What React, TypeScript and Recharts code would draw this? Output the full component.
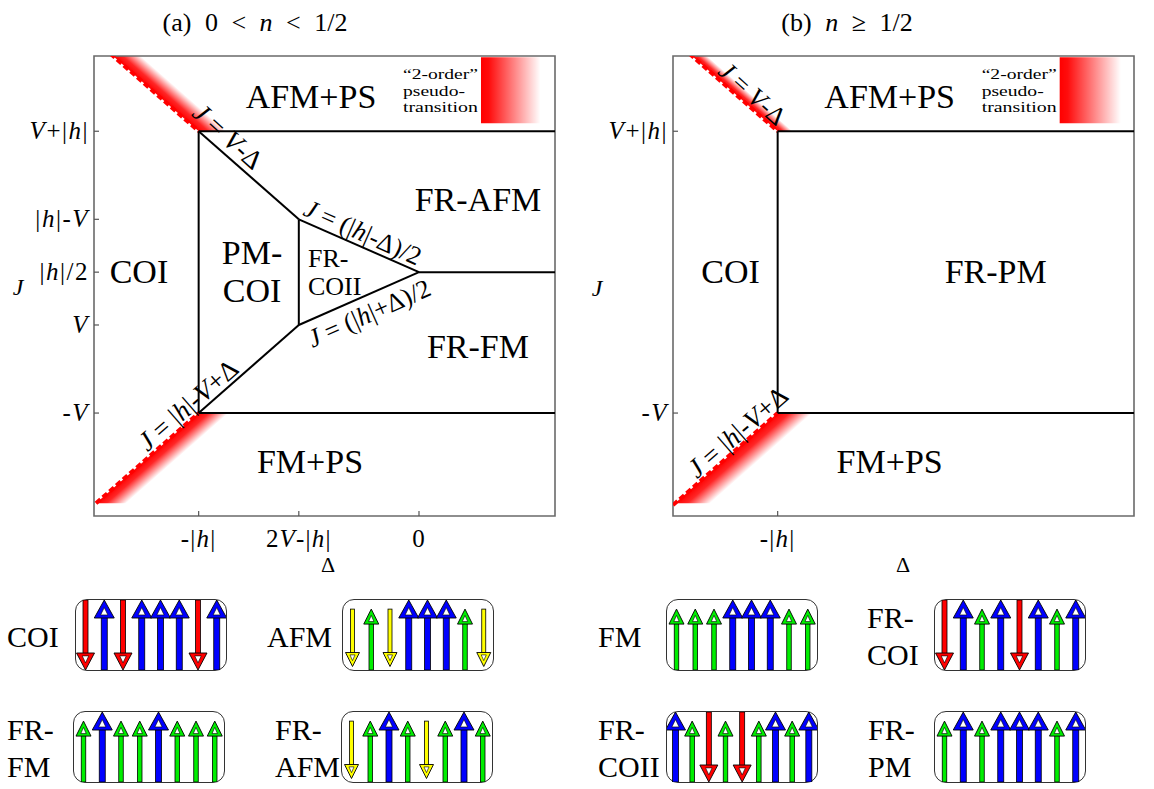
import React from 'react';
import {
  ComposedChart, Line, Area, XAxis, YAxis, ReferenceArea, ReferenceDot, BarChart, Bar,
} from 'recharts';

const FONT = '"Liberation Serif", "Times New Roman", serif';

// Units used for the schematic axes: |h| = 4.4, V = 1
const X_DOMAIN: [number, number] = [-6.49, 2.716];
const Y_DOMAIN: [number, number] = [-3.338, 7.109];

const xTicksA = [-4.4, -2.4, 0];
const xTickLabelsA = ['-|h|', '2V-|h|', '0'];
const yTicksA = [5.4, 3.4, 2.2, 1, -1];
const yTickLabelsA = ['V+|h|', '|h|-V', '|h|/2', 'V', '-V'];
const xTicksB = [-4.4];
const xTickLabelsB = ['-|h|'];
const yTicksB = [5.4, -1];
const yTickLabelsB = ['V+|h|', '-V'];

type Pt = { x: number; y: number };
type BandPt = { x: number; r: [number, number] };

// phase boundaries, panel (a)
const bJVmD_A: Pt[] = [{ x: -4.4, y: 5.4 }, { x: -2.4, y: 3.4 }];
const bHalfMinus_A: Pt[] = [{ x: -2.4, y: 3.4 }, { x: 0, y: 2.2 }];
const bHalfPlus_A: Pt[] = [{ x: -2.4, y: 1 }, { x: 0, y: 2.2 }];
const bJhVD_A: Pt[] = [{ x: -4.4, y: -1 }, { x: -2.4, y: 1 }];
const bVertH_A: Pt[] = [{ x: -4.4, y: 5.4 }, { x: -4.4, y: -1 }];
const bVert2V_A: Pt[] = [{ x: -2.4, y: 3.4 }, { x: -2.4, y: 1 }];
const bTop_A: Pt[] = [{ x: -4.4, y: 5.4 }, { x: 2.716, y: 5.4 }];
const bMid_A: Pt[] = [{ x: 0, y: 2.2 }, { x: 2.716, y: 2.2 }];
const bBot_A: Pt[] = [{ x: -4.4, y: -1 }, { x: 2.716, y: -1 }];

// phase boundaries, panel (b)
const bVertH_B: Pt[] = [{ x: -4.4, y: 5.4 }, { x: -4.4, y: -1 }];
const bTop_B: Pt[] = [{ x: -4.4, y: 5.4 }, { x: 2.716, y: 5.4 }];
const bBot_B: Pt[] = [{ x: -4.4, y: -1 }, { x: 2.716, y: -1 }];

// "2-order" pseudo-transition bands
const upperBandA: BandPt[] = [{ x: -6.3, r: [7.3, 7.85] }, { x: -4.4, r: [5.4, 5.95] }, { x: -3.85, r: [5.4, 5.4] }];
const lowerBandA: BandPt[] = [{ x: -6.45, r: [-3.05, -3.05] }, { x: -5.85, r: [-3.05, -2.45] }, { x: -4.4, r: [-1.6, -1.0] }, { x: -3.8, r: [-1.0, -1.0] }];
const upperEdgeA: Pt[] = [{ x: -6.3, y: 7.3 }, { x: -4.4, y: 5.4 }];
const lowerEdgeA: Pt[] = [{ x: -6.45, y: -3.05 }, { x: -4.4, y: -1.0 }];

const upperBandB: BandPt[] = [{ x: -6.3, r: [7.3, 7.6] }, { x: -4.4, r: [5.4, 5.7] }, { x: -4.1, r: [5.4, 5.4] }];
const lowerBandB: BandPt[] = [{ x: -6.45, r: [-3.05, -3.05] }, { x: -5.75, r: [-3.05, -2.35] }, { x: -4.4, r: [-1.7, -1.0] }, { x: -3.7, r: [-1.0, -1.0] }];
const upperEdgeB: Pt[] = [{ x: -6.3, y: 7.3 }, { x: -4.4, y: 5.4 }];
const lowerEdgeB: Pt[] = [{ x: -6.49, y: -3.09 }, { x: -4.4, y: -1.0 }];

// spin configurations (B blue up, G green up, R red down, Y yellow down)
const spinsCOI = ['R', 'B', 'R', 'B', 'B', 'B', 'R', 'B'];
const spinsAFM = ['Y', 'G', 'Y', 'B', 'B', 'B', 'G', 'Y'];
const spinsFM = ['G', 'G', 'G', 'B', 'B', 'B', 'G', 'G'];
const spinsFRCOI = ['R', 'B', 'G', 'B', 'R', 'B', 'G', 'B'];
const spinsFRFM = ['G', 'B', 'G', 'G', 'B', 'G', 'G', 'G'];
const spinsFRAFM = ['Y', 'G', 'B', 'G', 'Y', 'G', 'B', 'G'];
const spinsFRCOII = ['B', 'G', 'R', 'G', 'R', 'G', 'B', 'G', 'B'];
const spinsFRPM = ['G', 'B', 'G', 'B', 'B', 'B', 'G', 'B'];

const ARROWS: Record<string, { color: string; stem: number; head: number; headH: number; lo: number; hi: number; up: boolean }> = {
  B: { color: '#0000ff', stem: 6, head: 20, headH: 18, lo: 0, hi: 1, up: true },
  G: { color: '#00ee00', stem: 4.5, head: 15, headH: 15, lo: 0, hi: 0.87, up: true },
  R: { color: '#ff0000', stem: 5, head: 18, headH: 17, lo: 0, hi: 1, up: false },
  Y: { color: '#ffff00', stem: 4, head: 14, headH: 14, lo: 0.05, hi: 0.87, up: false },
};

const ITALIC = new Set(['J', 'V', 'h', 'n']);
function math(s: string) {
  const runs: { it: boolean; t: string }[] = [];
  for (const ch of s) {
    const it = ITALIC.has(ch);
    if (runs.length && runs[runs.length - 1].it === it) runs[runs.length - 1].t += ch;
    else runs.push({ it, t: ch });
  }
  return runs.map((r, i) => (
    <tspan key={i} fontStyle={r.it ? 'italic' : 'normal'}>{r.t}</tspan>
  ));
}

type Lbl = {
  x: number; y: number; lines: string[]; size: number; anchor?: 'start' | 'middle' | 'end';
  angle?: number; gap?: number; isMath?: boolean; lengths?: number[];
};

const labelsA: Lbl[] = [
  { x: -2.157, y: 5.922, lines: ['AFM+PS'], size: 34 },
  { x: 1.178, y: 3.585, lines: ['FR-AFM'], size: 34 },
  { x: -5.592, y: 1.951, lines: ['COI'], size: 34 },
  { x: -3.335, y: 2.382, lines: ['PM-', 'COI'], size: 34, gap: 38 },
  { x: -2.217, y: 2.314, lines: ['FR-', 'COII'], size: 26, anchor: 'start', gap: 28 },
  { x: 1.178, y: 0.248, lines: ['FR-FM'], size: 34 },
  { x: -2.177, y: -2.362, lines: ['FM+PS'], size: 34 },
  { x: -0.32, y: 6.581, lines: ['\u201c2-order\u201d', 'pseudo-', 'transition'], size: 15.5, anchor: 'start', gap: 16.5, lengths: [75, 62, 75] },
  { x: -3.815, y: 5.287, lines: ['J = V-\u0394'], size: 27, angle: 42, isMath: true },
  { x: -1.118, y: 3.108, lines: ['J = (|h|-\u0394)/2'], size: 26, angle: 24, isMath: true },
  { x: -0.999, y: 1.27, lines: ['J = (|h|+\u0394)/2'], size: 26, angle: -24, isMath: true },
  { x: -4.614, y: -0.818, lines: ['J = |h|-V+\u0394'], size: 27, angle: -41, isMath: true },
];

const labelsB: Lbl[] = [
  { x: -2.163, y: 5.922, lines: ['AFM+PS'], size: 34 },
  { x: -0.326, y: 6.581, lines: ['\u201c2-order\u201d', 'pseudo-', 'transition'], size: 15.5, anchor: 'start', gap: 16.5, lengths: [75, 62, 75] },
  { x: -5.339, y: 1.951, lines: ['COI'], size: 34 },
  { x: -0.046, y: 1.951, lines: ['FR-PM'], size: 34 },
  { x: -2.163, y: -2.362, lines: ['FM+PS'], size: 34 },
  { x: -4.899, y: 6.263, lines: ['J = V-\u0394'], size: 26, angle: 42, isMath: true },
  { x: -5.199, y: -1.431, lines: ['J = |h|-V+\u0394'], size: 27, angle: -41, isMath: true },
];

const makeLabelShape = (l: Lbl) => (p: any) => {
  const { cx, cy } = p;
  if (cx == null || cy == null) return <g />;
  const rotated = l.angle !== undefined;
  return (
    <text
      x={cx}
      y={cy}
      fontFamily={FONT}
      fontSize={l.size}
      fill="#000"
      textAnchor={l.anchor || 'middle'}
      dominantBaseline={rotated ? 'central' : 'auto'}
      transform={rotated ? `rotate(${l.angle} ${cx} ${cy})` : undefined}
    >
      {l.lines.map((t, i) => (
        <tspan
          key={i} x={cx} dy={i === 0 ? 0 : l.gap}
          textLength={l.lengths ? l.lengths[i] : undefined}
          lengthAdjust={l.lengths ? 'spacingAndGlyphs' : undefined}
        >
          {l.isMath ? math(t) : t}
        </tspan>
      ))}
    </text>
  );
};

const makeYTick = (ticks: number[], labels: string[]) => (p: any) => {
  const { x, y, payload } = p;
  const idx = ticks.findIndex((t) => Math.abs(t - payload.value) < 1e-6);
  return (
    <g>
      <line x1={x} x2={x + 5} y1={y} y2={y} stroke="#555" strokeWidth={1.2} />
      <text x={x - 5} y={y} dy={8} textAnchor="end" fontFamily={FONT} fontSize={25} letterSpacing={1.5} fill="#000">
        {math(labels[idx] ?? '')}
      </text>
    </g>
  );
};

const makeXTick = (ticks: number[], labels: string[]) => (p: any) => {
  const { x, y, payload } = p;
  const idx = ticks.findIndex((t) => Math.abs(t - payload.value) < 1e-6);
  return (
    <g>
      <line x1={x} x2={x} y1={y} y2={y - 5} stroke="#555" strokeWidth={1.2} />
      <text x={x} y={y + 31} textAnchor="middle" fontFamily={FONT} fontSize={25} letterSpacing={1.2} fill="#000">
        {math(labels[idx] ?? '')}
      </text>
    </g>
  );
};

type Band = { data: BandPt[]; g: [number, number, number, number] };

function PhaseChart(props: {
  id: string; width: number; margin: any; boundaries: Pt[][]; bands: Band[]; edges: Pt[][];
  labels: Lbl[]; xTicks: number[]; xLabels: string[]; yTicks: number[]; yLabels: string[]; legendX: [number, number];
}) {
  const { id, width, margin, boundaries, bands, edges, labels, xTicks, xLabels, yTicks, yLabels, legendX } = props;
  return (
    <ComposedChart width={width} height={600} margin={margin}>
      <defs>
        {bands.map((b, i) => (
          <linearGradient key={i} id={`${id}-g${i}`} x1={b.g[0]} y1={b.g[1]} x2={b.g[2]} y2={b.g[3]}>
            <stop offset="0" stopColor="#ff0000" stopOpacity={1} />
            <stop offset="0.35" stopColor="#ff0000" stopOpacity={0.85} />
            <stop offset="1" stopColor="#ff0000" stopOpacity={0} />
          </linearGradient>
        ))}
        <linearGradient id={`${id}-leg`} x1="0" y1="0" x2="1" y2="0">
          <stop offset="0" stopColor="#ff0000" stopOpacity={1} />
          <stop offset="0.12" stopColor="#ff0000" stopOpacity={0.95} />
          <stop offset="0.9" stopColor="#ff0000" stopOpacity={0} />
        </linearGradient>
      </defs>
      <XAxis
        type="number" dataKey="x" domain={X_DOMAIN} allowDataOverflow ticks={xTicks} interval={0}
        tick={makeXTick(xTicks, xLabels)} tickLine={false} axisLine={false} tickSize={0} tickMargin={0} height={30}
      />
      <YAxis
        type="number" domain={Y_DOMAIN} allowDataOverflow ticks={yTicks} interval={0}
        tick={makeYTick(yTicks, yLabels)} tickLine={false} axisLine={false} tickSize={0} tickMargin={0} width={60}
      />
      <ReferenceArea x1={legendX[0]} x2={legendX[1]} y1={5.58} y2={7.08} fill={`url(#${id}-leg)`} fillOpacity={1} stroke="none" />
      {bands.map((b, i) => (
        <Area
          key={`band${i}`} data={b.data} dataKey="r" type="linear" stroke="none"
          fill={`url(#${id}-g${i})`} fillOpacity={1} isAnimationActive={false} dot={false} activeDot={false}
        />
      ))}
      {edges.map((e, i) => (
        <Line
          key={`edge${i}`} data={e} dataKey="y" type="linear" stroke="#ff0000" strokeWidth={4}
          strokeDasharray="6 3" dot={false} activeDot={false} isAnimationActive={false}
        />
      ))}
      {boundaries.map((s, i) => (
        <Line
          key={`b${i}`} data={s} dataKey="y" type="linear" stroke="#000" strokeWidth={2}
          dot={false} activeDot={false} isAnimationActive={false}
        />
      ))}
      {labels.map((l, i) => (
        <ReferenceDot key={`l${i}`} x={l.x} y={l.y} r={1} ifOverflow="visible" shape={makeLabelShape(l)} />
      ))}
      <ReferenceArea
        x1={X_DOMAIN[0]} x2={X_DOMAIN[1]} y1={Y_DOMAIN[0]} y2={Y_DOMAIN[1]}
        fill="none" fillOpacity={0} stroke="#6a6a6a" strokeWidth={1.6}
      />
    </ComposedChart>
  );
}

function ArrowShape(p: any) {
  const { x, y, width, height, payload } = p;
  const s = ARROWS[payload.k];
  if (!s) return <g />;
  const cx = x + width / 2;
  const top = Math.min(y, y + height);
  const bot = Math.max(y, y + height);
  const hw = s.head / 2;
  const sw = s.stem / 2;
  const hh = s.headH;
  if (s.up) {
    const hb = top + hh;
    return (
      <g>
        <rect x={cx - sw} y={hb - 1} width={s.stem} height={bot - hb + 1} fill={s.color} stroke="#000" strokeWidth={0.8} />
        <polygon points={`${cx},${top} ${cx - hw},${hb} ${cx + hw},${hb}`} fill={s.color} stroke="#000" strokeWidth={0.9} />
        <polygon points={`${cx},${top + hh * 0.42} ${cx - hw * 0.36},${hb - hh * 0.17} ${cx + hw * 0.36},${hb - hh * 0.17}`} fill="#fff" stroke="#000" strokeWidth={0.6} />
      </g>
    );
  }
  const hb = bot - hh;
  return (
    <g>
      <rect x={cx - sw} y={top} width={s.stem} height={hb - top + 1} fill={s.color} stroke="#000" strokeWidth={0.8} />
      <polygon points={`${cx},${bot} ${cx - hw},${hb} ${cx + hw},${hb}`} fill={s.color} stroke="#000" strokeWidth={0.9} />
      <polygon points={`${cx},${bot - hh * 0.42} ${cx - hw * 0.36},${hb + hh * 0.17} ${cx + hw * 0.36},${hb + hh * 0.17}`} fill="#fff" stroke="#000" strokeWidth={0.6} />
    </g>
  );
}

function SpinBox({ spins, left, top }: { spins: string[]; left: number; top: number }) {
  const data = spins.map((k, i) => ({ i, k, r: [ARROWS[k].lo, ARROWS[k].hi] }));
  return (
    <div
      style={{
        position: 'absolute', left, top, width: 150, height: 70,
        border: '1.5px solid #333', borderRadius: 12, background: '#fff',
      }}
    >
      <BarChart width={150} height={70} data={data} margin={{ top: 0, right: 0, bottom: 0, left: 0 }} barCategoryGap={0}>
        <XAxis dataKey="i" type="category" hide />
        <YAxis type="number" domain={[0, 1]} allowDataOverflow hide />
        <Bar dataKey="r" shape={ArrowShape} isAnimationActive={false} />
      </BarChart>
    </div>
  );
}

export default function App() {
  const tStyle = { fontFamily: FONT, fill: '#000' } as const;
  return (
    <div style={{ position: 'absolute', left: 0, top: 0, width: 1154, height: 789, background: '#fff', overflow: 'hidden' }}>
      <div style={{ position: 'absolute', left: 0, top: 0 }}>
        <PhaseChart
          id="pa" width={580} margin={{ top: 56, right: 25, bottom: 54, left: 34 }}
          boundaries={[bJVmD_A, bHalfMinus_A, bHalfPlus_A, bJhVD_A, bVertH_A, bVert2V_A, bTop_A, bMid_A, bBot_A]}
          bands={[
            { data: upperBandA, g: [0.4, 0.624, 0.512, 0.512] },
            { data: lowerBandA, g: [0.3, 0.612, 0.441, 0.721] },
          ]}
          edges={[upperEdgeA, lowerEdgeA]}
          labels={labelsA}
          xTicks={xTicksA} xLabels={xTickLabelsA} yTicks={yTicksA} yLabels={yTickLabelsA}
          legendX={[1.238, 2.556]}
        />
      </div>
      <div style={{ position: 'absolute', left: 580, top: 0 }}>
        <PhaseChart
          id="pb" width={574} margin={{ top: 56, right: 20, bottom: 54, left: 33 }}
          boundaries={[bVertH_B, bTop_B, bBot_B]}
          bands={[
            { data: upperBandB, g: [0.4, 0.536, 0.468, 0.468] },
            { data: lowerBandB, g: [0.3, 0.597, 0.463, 0.718] },
          ]}
          edges={[upperEdgeB, lowerEdgeB]}
          labels={labelsB}
          xTicks={xTicksB} xLabels={xTickLabelsB} yTicks={yTicksB} yLabels={yTickLabelsB}
          legendX={[1.232, 2.59]}
        />
      </div>

      <SpinBox spins={spinsCOI} left={75} top={599} />
      <SpinBox spins={spinsAFM} left={342} top={599} />
      <SpinBox spins={spinsFM} left={666} top={599} />
      <SpinBox spins={spinsFRCOI} left={934} top={599} />
      <SpinBox spins={spinsFRFM} left={73} top={711} />
      <SpinBox spins={spinsFRAFM} left={341} top={711} />
      <SpinBox spins={spinsFRCOII} left={666} top={711} />
      <SpinBox spins={spinsFRPM} left={934} top={711} />

      <svg width={1154} height={789} style={{ position: 'absolute', left: 0, top: 0, pointerEvents: 'none' }}>
        <text x={255} y={31} textAnchor="middle" fontSize={26} wordSpacing={7} {...tStyle}>{math('(a) 0 < n < 1/2')}</text>
        <text x={847} y={31} textAnchor="middle" fontSize={26} wordSpacing={7} {...tStyle}>{math('(b) n \u2265 1/2')}</text>
        <text x={18} y={295} textAnchor="middle" fontSize={24} fontStyle="italic" {...tStyle}>J</text>
        <text x={597} y={296} textAnchor="middle" fontSize={24} fontStyle="italic" {...tStyle}>J</text>
        <text x={328} y={572} textAnchor="middle" fontSize={22} {...tStyle}>{'\u0394'}</text>
        <text x={903} y={572} textAnchor="middle" fontSize={22} {...tStyle}>{'\u0394'}</text>

        <text x={7} y={647} fontSize={30} {...tStyle}>COI</text>
        <text x={267} y={647} fontSize={30} {...tStyle}>AFM</text>
        <text x={598} y={647} fontSize={30} {...tStyle}>FM</text>
        <text x={867} y={628} fontSize={30} {...tStyle}>FR-<tspan x={867} dy={37}>COI</tspan></text>
        <text x={7} y={740} fontSize={30} {...tStyle}>FR-<tspan x={7} dy={37}>FM</tspan></text>
        <text x={275} y={740} fontSize={30} {...tStyle}>FR-<tspan x={275} dy={37}>AFM</tspan></text>
        <text x={598} y={740} fontSize={30} {...tStyle}>FR-<tspan x={598} dy={37}>COII</tspan></text>
        <text x={868} y={740} fontSize={30} {...tStyle}>FR-<tspan x={868} dy={37}>PM</tspan></text>
      </svg>
    </div>
  );
}
